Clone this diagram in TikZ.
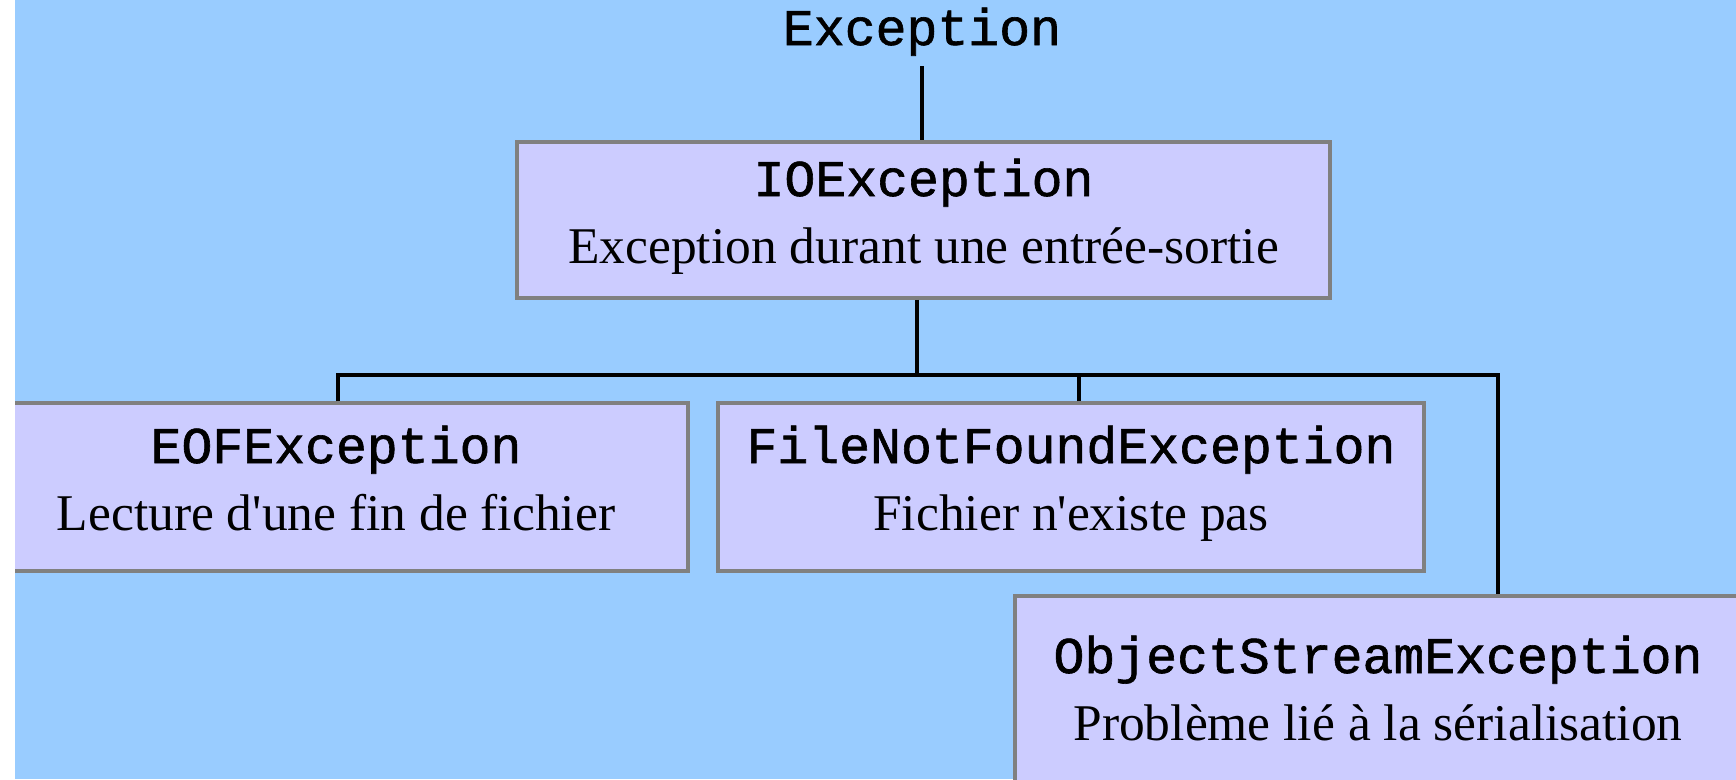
\documentclass[tikz,border=0pt]{standalone}
\usepackage{fontspec}
\setmainfont{Liberation Serif}
\newfontfamily\clsfont{Liberation Mono}[FakeBold=1.2]
\usetikzlibrary{positioning}
\definecolor{sky}{RGB}{153, 204, 255}
\definecolor{lilac}{RGB}{204, 204, 255}
\definecolor{frame}{RGB}{128, 128, 128}
\newcommand{\cname}[1]{{\clsfont #1}}

\begin{document}
\begin{tikzpicture}[x=1pt, y=-1pt,
      cls/.style={draw=frame, fill=lilac, line width=3.5pt, align=center, inner sep=0pt,
                  font=\fontsize{51.5}{67}\selectfont, text height=96pt, text depth=10pt},
      ln/.style={line width=4.5pt, black}]
      \useasboundingbox (0,0) rectangle (1736,779);
      \fill[white] (0,0) rectangle (15,779);
      \fill[sky] (15,0) rectangle (1736,779);
      \begin{scope}
      \clip (15,0) rectangle (1736,779);
      \node[anchor=base, font=\fontsize{51.5}{67}\selectfont] (exc) at (922,45) {\cname{Exception}};
      \node[cls, minimum width=813pt, minimum height=156pt] (io) at (923.5,220)
        {\cname{IOException}\\Exception durant une entrée-sortie};
      \node[cls, minimum width=704pt, minimum height=168pt] (eof) at (336,487)
        {\cname{EOFException}\\Lecture d\textquotesingle une fin de fichier};
      \node[cls, minimum width=706pt, minimum height=168pt] (fnf) at (1071,487)
        {\cname{FileNotFoundException}\\Fichier n\textquotesingle existe pas};
      \node[cls, minimum width=726pt, minimum height=202pt] (ose) at (1378,697)
        {\cname{ObjectStreamException}\\Problème lié à la sérialisation};
      % tree connectors
      \coordinate (bus) at (917,375);
      \draw[ln] ([yshift=-7pt]exc.south) -- (exc.south |- io.north);
      \draw[ln] (io.south -| bus) -- (bus);
      \draw[ln] ([xshift=2pt]eof.north) |- (bus) -| ([xshift=120pt]ose.north);
      \draw[ln] ([xshift=8pt]fnf.north) -- ([xshift=8pt]fnf.north |- bus);
      \end{scope}
\end{tikzpicture}
\end{document}
